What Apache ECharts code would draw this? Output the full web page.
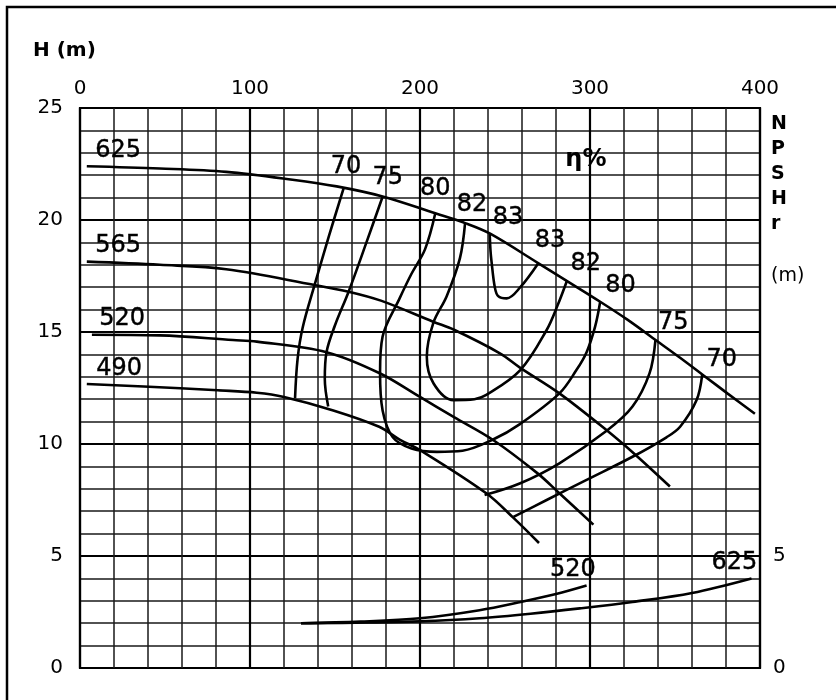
<!DOCTYPE html>
<html>
<head>
<meta charset="utf-8">
<script src="https://cdn.jsdelivr.net/npm/echarts@6/dist/echarts.min.js"></script>
<style>html,body{margin:0;padding:0;background:#fff}#c{width:836px;height:700px}</style>
</head>
<body>
<div id="c"></div>
<script>
// Axis ticks
const xTicks = [0, 100, 200, 300, 400];
const yTicks = [0, 5, 10, 15, 20, 25];
const npshTicks = [0, 5];

// Head curves H(Q) for impeller diameters [Q, H]
const head625 = [[4,22.4],[47,22.3],[86,22.15],[125,21.8],[151,21.5],[178,21.05],[209,20.3],[227,19.85],[241,19.4],[269,18.1],[287,17.25],[306,16.35],[322,15.55],[339,14.62],[353,13.85],[367,13.05],[381,12.25],[397,11.35]];
const head565 = [[4,18.14],[47,18.0],[86,17.8],[138,17.1],[158,16.8],[177,16.4],[208,15.45],[220,15.1],[247,14.05],[259,13.4],[282,12.26],[310,10.6],[327,9.5],[347,8.1]];
const head520 = [[7,14.88],[47,14.85],[90,14.64],[104,14.57],[145,14.1],[176,13.17],[200,12.1],[220,11.2],[243,10.18],[269,8.7],[282,7.8],[302,6.4]];
const head490 = [[4,12.68],[59,12.49],[81,12.4],[104,12.29],[120,12.1],[149,11.5],[176,10.77],[188,10.2],[200,9.73],[239,7.8],[255,6.7],[270,5.58]];

// Efficiency iso-lines
const eff70a = [[155,21.4],[146.5,19.3],[138,17.1],[131,15.2],[128,13.8],[126.5,12.05]];
const eff75a = [[178,21.04],[168.5,19.0],[158,16.8],[150,15.3],[145,14.1],[144,12.9],[146,11.67]];
const eff80 = [[209,20.3],[203,18.7],[195,17.6],[188,16.5],[178,14.8],[176.5,13.2],[178,11.5],[184,10.3],[195,9.8],[210,9.65],[225,9.7],[243,10.2],[259,10.9],[282,12.26],[292,13.3],[298,14.1],[303,15.24],[306,16.35]];
const eff82 = [[226.5,19.85],[223.5,18.3],[215.7,16.6],[207.8,15.4],[204,13.9],[208,12.7],[219.6,11.96],[232,12.0],[239,12.19],[259,13.3],[274.5,15.09],[281,16.2],[286.5,17.3]];
const eff83 = [[241,19.4],[241.5,18.6],[242,18.2],[244,17.0],[246,16.6],[251,16.5],[259,17.0],[269.6,18.07]];
const eff75b = [[238,7.72],[259,8.25],[282,9.14],[310,10.6],[325,11.67],[335,13.15],[338.5,14.64]];
const eff70b = [[255,6.75],[274.5,7.5],[298,8.4],[325,9.43],[345,10.3],[353,10.77],[362.7,11.96],[366,13.1]];

// NPSHr curves
const npsh520 = [[130,2.0],[165,2.07],[200,2.22],[235,2.58],[260,2.96],[280,3.3],[298,3.68]];
const npsh625 = [[130,2.0],[170,2.03],[200,2.08],[235,2.22],[265,2.42],[294,2.66],[325,2.95],[360,3.35],[395,4.0]];

// Curve labels [Q, H, text]
const diamLabels = [[22.4,23.08,'625'],[22.4,18.84,'565'],[24.8,15.58,'520'],[23,13.35,'490']];
const effLabels = [[156.5,22.37,'70'],[181,21.9,'75'],[209,21.4,'80'],[230.6,20.7,'82'],[251.8,20.1,'83'],[276.5,19.06,'83'],[297.6,18.04,'82'],[318,17.05,'80'],[349,15.4,'75'],[377.6,13.75,'70']];
const etaLabel = [[297.6,22.68,'η%']];
const npshLabels = [[290,4.375,'520'],[385,4.69,'625']];

const FONT = 'DejaVu Sans';
const lineS = (data) => ({
  type: 'line', data: data, smooth: 0.35, showSymbol: false, symbol: 'none',
  lineStyle: { color: '#000', width: 2.6 }, silent: true, z: 5
});
const labelS = (data, size, weight) => ({
  type: 'scatter', data: data, symbolSize: 0.1, itemStyle: { color: '#000', opacity: 1 }, silent: true, z: 10,
  label: { show: true, position: [0, 0], align: 'center', verticalAlign: 'middle', formatter: p => p.value[2],
    fontFamily: FONT, fontSize: size, fontWeight: weight, color: '#000', opacity: 1,
    textBorderColor: '#000', textBorderWidth: weight === 'bold' ? 0 : 0.4 }
});

const chart = echarts.init(document.getElementById('c'), null, { renderer: 'canvas' });
chart.setOption({
  animation: false,
  backgroundColor: '#fff',
  grid: { left: 80, top: 108, width: 680, height: 560, show: true, borderColor: '#000', borderWidth: 2.2, backgroundColor: 'transparent' },
  xAxis: {
    type: 'value', position: 'top', min: xTicks[0], max: xTicks[xTicks.length-1], interval: 100,
    axisLine: { show: false }, axisTick: { show: false },
    axisLabel: { fontFamily: FONT, fontSize: 20, color: '#000', margin: 9 },
    splitLine: { show: true, lineStyle: { color: '#000', width: 2.2 } },
    minorTick: { show: false, splitNumber: 5 },
    minorSplitLine: { show: true, lineStyle: { color: '#1a1a1a', width: 1.5 } }
  },
  yAxis: [{
    type: 'value', min: yTicks[0], max: yTicks[yTicks.length-1], interval: 5,
    axisLine: { show: false }, axisTick: { show: false },
    axisLabel: { fontFamily: FONT, fontSize: 20, color: '#000', margin: 17 },
    splitLine: { show: true, lineStyle: { color: '#000', width: 2.2 } },
    minorTick: { show: false, splitNumber: 5 },
    minorSplitLine: { show: true, lineStyle: { color: '#1a1a1a', width: 1.5 } }
  }, {
    type: 'value', position: 'right', min: yTicks[0], max: yTicks[yTicks.length-1], interval: 5,
    axisLine: { show: false }, axisTick: { show: false }, splitLine: { show: false },
    axisLabel: { fontFamily: FONT, fontSize: 20, color: '#000', margin: 13,
      formatter: v => npshTicks.indexOf(v) >= 0 ? String(v) : '' }
  }],
  graphic: [
    { type: 'polyline', shape: { points: [[7, 700], [7, 7], [836, 7]] }, style: { fill: 'none', stroke: '#000', lineWidth: 2.5 } },
    { type: 'text', left: 33, top: 41, style: { text: 'H (m)', font: 'bold 20px "DejaVu Sans"', fill: '#000' } },
    { type: 'text', left: 771, top: 112, style: { text: 'N\nP\nS\nH\nr', font: 'bold 19px "DejaVu Sans"', lineHeight: 25, fill: '#000', align: 'left' } },
    { type: 'text', left: 771, top: 267, style: { text: '(m)', font: '19px "DejaVu Sans"', fill: '#000' } }
  ],
  series: [
    lineS(head625), lineS(head565), lineS(head520), lineS(head490),
    lineS(eff70a), lineS(eff75a), lineS(eff80), lineS(eff82), lineS(eff83), lineS(eff75b), lineS(eff70b),
    lineS(npsh520), lineS(npsh625),
    labelS(diamLabels, 24, 'normal'),
    labelS(effLabels, 24, 'normal'),
    labelS(etaLabel, 24, 'bold'),
    labelS(npshLabels, 24, 'normal')
  ]
});
</script>
</body>
</html>
